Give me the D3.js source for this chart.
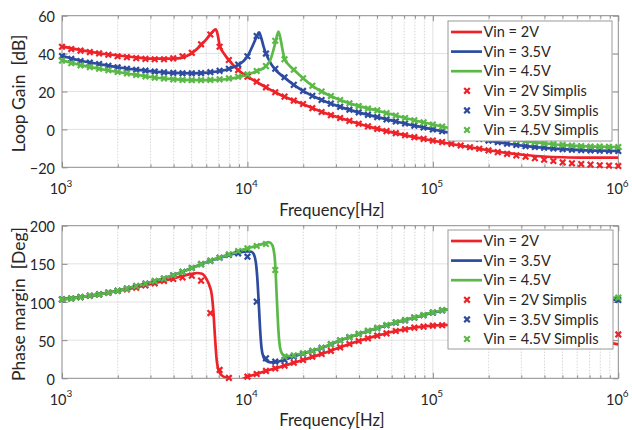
<!DOCTYPE html>
<html><head><meta charset="utf-8">
<script src="https://cdn.jsdelivr.net/npm/d3@7"></script>
<style>
body{margin:0;background:#fff}
svg{display:block}
text{font-family:Lato,"Open Sans",sans-serif;fill:#262626}
</style>
</head><body>
<svg id="c" width="632" height="430"></svg>
<script>
// ---------- DATA ----------
const seriesNames = ["Vin = 2V", "Vin = 3.5V", "Vin = 4.5V"];
const simNames = ["Vin = 2V Simplis", "Vin = 3.5V Simplis", "Vin = 4.5V Simplis"];
const decadeTicks = [1e3, 1e4, 1e5, 1e6];
const decadeExponents = ["3", "4", "5", "6"];
const gainTicks = [-20, 0, 20, 40, 60];
const phaseTicks = [0, 50, 100, 150, 200];

// Simplis sample frequencies (Hz)
const simFreq = [1000,1122,1259,1413,1585,1778,1995,2239,2512,2818,
  3162,3548,3981,4467,5012,5623,6310,7079,7943,8913,
  10000,11220,12589,14125,15849,17783,19953,22387,25119,28184,
  31623,35481,39811,44668,50119,56234,63096,70795,79433,89125,
  100000,112202,125893,141254,158489,177828,199526,223872,251189,281838,
  316228,354813,398107,446684,501187,562341,630957,707946,794328,891251,1000000];

// Loop gain, Simplis markers (dB)
const gainSim2V = [43.6,42.4,41.6,40.8,40.1,39.4,38.6,38.1,37.6,37.2,
  37.0,37.0,37.5,38.6,40.4,44.9,50.1,43.6,36.6,31.3,
  27.8,25.2,22.2,19.6,17.3,15.2,13.4,11.2,9.2,7.5,
  6.0,4.5,3.0,1.6,0.3,-0.9,-2.0,-3.1,-4.1,-5.0,
  -5.9,-6.7,-7.6,-8.5,-9.4,-10.2,-11.1,-12.0,-12.9,-13.7,
  -14.4,-15.2,-16.0,-16.7,-17.4,-17.9,-18.3,-18.6,-18.9,-19.1,-19.3];
const gainSim35V = [38.7,37.2,36.1,35.2,34.5,33.6,32.8,32.0,31.5,31.0,
  30.5,30.1,29.8,29.6,29.6,29.7,30.2,30.9,32.0,34.2,
  38.6,49.3,40.0,32.0,27.5,23.5,20.3,17.7,15.5,13.6,
  11.9,10.4,9.0,7.7,6.5,5.3,4.2,3.1,2.0,1.0,
  0.0,-1.0,-2.0,-3.0,-4.0,-5.0,-5.9,-6.7,-7.5,-8.2,
  -8.8,-9.3,-9.7,-10.1,-10.4,-10.7,-10.9,-11.1,-11.2,-11.3,-11.4];
const gainSim45V = [36.3,34.9,33.8,32.9,32.0,31.2,30.3,29.6,28.7,28.0,
  27.3,26.9,26.4,26.1,26.0,26.0,26.1,26.4,26.9,27.8,
  29.0,30.8,33.4,46.8,37.0,31.5,27.0,23.0,20.0,17.6,
  15.5,13.8,12.3,11.0,10.0,8.6,7.3,6.0,4.8,3.7,
  2.6,1.5,0.5,-0.5,-1.4,-2.3,-3.2,-4.0,-4.8,-5.5,
  -6.2,-6.8,-7.3,-7.8,-8.2,-8.5,-8.8,-9.0,-9.1,-9.2,-9.3];

// Phase margin, Simplis markers (deg)
const phaseSim2V = [103.5,104.6,106.3,108.2,110.0,112.3,114.5,116.6,118.8,121.8,
  124.5,127.5,130.1,132.3,134.5,128.0,85.5,11.0,0.5,-4.0,
  2.1,5.6,9.7,13.1,16.6,20.4,24.0,28.2,32.0,36.0,
  40.6,45.0,48.9,52.4,55.9,58.9,62.0,64.2,66.4,67.7,
  69.0,69.5,70.0,70.3,70.4,70.3,70.0,69.5,69.0,68.3,
  67.5,66.7,65.8,64.8,63.8,62.7,61.6,60.5,59.4,58.4,57.5];
const phaseSim35V = [103.5,104.6,106.3,108.2,110.0,112.3,114.8,117.5,120.8,124.0,
  127.3,130.6,135.0,139.5,144.5,149.6,154.0,158.0,161.6,163.8,
  159.4,100.4,26.2,21.8,24.0,28.5,32.2,35.8,39.8,44.5,
  49.5,53.8,58.0,62.0,65.8,69.5,73.0,76.0,79.5,82.6,
  86.0,89.0,91.0,93.0,94.6,96.1,97.4,98.5,99.5,100.3,
  101.0,101.5,101.9,102.2,102.4,102.5,102.6,102.6,102.6,102.6,102.6];
const phaseSim45V = [103.5,104.6,106.3,108.2,110.0,112.3,114.8,117.5,120.8,124.0,
  127.3,130.6,135.0,139.5,144.5,149.6,154.2,158.1,162.5,166.8,
  170.3,173.4,176.0,141.9,28.4,30.0,32.7,36.0,40.0,44.7,
  49.8,54.0,58.2,62.2,66.0,69.9,73.4,76.4,79.9,83.0,
  86.5,89.5,91.5,93.5,95.3,97.0,98.5,99.8,101.0,102.0,
  102.8,103.5,104.0,104.5,104.9,105.2,105.4,105.5,105.6,105.7,105.7];

// Model curves [frequency Hz, value]
const gainLine2V = [[1000,43.8],[1259,41.8],[1585,40.2],[1995,39.0],[2512,38.0],[3162,37.3],[3981,37.4],
  [4467,37.9],[5012,40.2],[5623,44.5],[6000,47.5],[6310,50.2],[6600,52.3],[6750,52.8],[6900,50.3],
  [7079,44.5],[7500,39.8],[7943,36.6],[8913,31.4],[10000,27.9],[11220,25.0],[12589,22.2],[14125,19.6],
  [15849,17.2],[17783,15.2],[19953,13.3],[25119,9.3],[31623,6.0],[39811,3.0],[50119,0.3],[63096,-2.0],
  [79433,-4.1],[100000,-5.9],[125893,-7.7],[158489,-9.4],[199526,-11.0],[251189,-12.4],[316228,-13.5],
  [398107,-14.3],[501187,-14.7],[630957,-14.9],[1000000,-14.9]];
const gainLine35V = [[1000,38.8],[1259,36.2],[1585,34.5],[1995,32.8],[2512,31.5],[3162,30.5],[3981,29.8],
  [5012,29.6],[6310,30.1],[7079,30.8],[7943,31.9],[8913,34.0],[9500,36.0],[10000,38.5],[10600,43.5],
  [11220,49.0],[11550,51.2],[11850,48.5],[12200,44.0],[12589,40.0],[13335,35.0],[14125,31.5],[15849,27.3],
  [17783,23.5],[19953,20.3],[25119,15.5],[31623,11.9],[39811,9.0],[50119,6.5],[63096,4.2],[79433,2.0],
  [100000,0.0],[125893,-2.0],[158489,-4.0],[199526,-5.9],[251189,-7.5],[316228,-8.8],[398107,-9.7],
  [501187,-10.4],[630957,-10.9],[794328,-11.2],[1000000,-11.4]];
const gainLine45V = [[1000,36.4],[1259,33.9],[1585,32.0],[1995,30.3],[2512,28.8],[3162,27.4],[3981,26.5],
  [5012,26.0],[6310,26.0],[7943,26.6],[10000,28.9],[11220,30.7],[12589,33.4],[13335,37.0],[14125,45.5],
  [14700,51.6],[15100,47.5],[15500,41.5],[15849,37.3],[16800,33.8],[17783,31.5],[19953,27.0],[22387,23.0],
  [25119,20.0],[31623,15.5],[39811,12.3],[50119,10.0],[63096,7.3],[79433,4.8],[100000,2.6],[125893,0.5],
  [158489,-1.4],[199526,-3.2],[251189,-4.8],[316228,-6.2],[398107,-7.3],[501187,-8.2],[630957,-8.8],
  [794328,-9.1],[1000000,-9.3]];

const phaseLine2V = [[1000,103.5],[1259,106.3],[1585,110.2],[1995,114.7],[2512,119.2],[3162,124.8],
  [3981,130.8],[4467,134.0],[5012,136.8],[5330,138.0],[5700,137.0],[6030,129.5],[6250,121],[6410,111],
  [6550,88],[6680,55],[6820,25],[7000,10],[7300,3.5],[7700,0.8],[8300,-2.5],[9000,-2.5],[9600,0],
  [10000,2.0],[11220,5.6],[12589,9.7],[14125,13.1],[15849,16.6],[17783,20.4],[19953,24.0],[25119,32.0],
  [31623,40.6],[39811,48.9],[50119,55.9],[63096,62.0],[79433,66.4],[100000,69.0],[125893,70.0],
  [158489,70.2],[199526,69.5],[251189,68.0],[316228,65.5],[398107,62.0],[501187,58.0],[630957,53.5],
  [794328,49.0],[1000000,44.5]];
const phaseLine35V = [[1000,103.5],[1259,106.3],[1585,110.0],[1995,114.8],[2512,120.8],[3162,127.3],
  [3981,135.0],[5012,144.5],[6310,154.0],[7943,161.5],[8913,164.5],[10000,166.3],[10500,165.8],
  [10800,163.0],[11100,152],[11300,132],[11500,100],[11700,65],[11900,41],[12200,28],[12589,23.5],
  [13335,21.0],[14125,21.2],[15849,24.5],[17783,28.5],[19953,32.4],[25119,39.8],[31623,49.5],
  [39811,58.0],[50119,65.8],[63096,73.0],[79433,79.5],[100000,86.0],[125893,91.0],[158489,94.6],
  [199526,97.4],[251189,99.5],[316228,101.0],[398107,101.9],[501187,102.4],[630957,102.6],[1000000,102.6]];
const phaseLine45V = [[1000,103.5],[1259,106.3],[1585,110.0],[1995,114.8],[2512,120.8],[3162,127.3],
  [3981,135.0],[5012,144.5],[6310,154.2],[7943,162.5],[10000,170.3],[11220,173.8],[12589,177.5],
  [13000,178.3],[13400,177.0],[13800,170.0],[14100,152],[14400,105],[14700,62],[15000,40],[15400,32],
  [15849,29.8],[16500,29.0],[17783,30.5],[19953,32.8],[25119,40.0],[31623,49.8],[39811,58.2],
  [50119,66.0],[63096,73.4],[79433,79.9],[100000,86.5],[125893,91.5],[158489,95.3],[199526,98.5],
  [251189,101.0],[316228,102.8],[398107,104.0],[501187,104.9],[630957,105.4],[1000000,105.7]];

// ---------- STYLE ----------
const colors = ["#ee2229", "#2d4b9f", "#5bb947"];
const axisColor = "#8c8c8c";

const svg = d3.select("#c");
const X0 = 62, X1 = 618.3;
const x = d3.scaleLog().domain([1e3, 1e6]).range([X0, X1]);
const minorTicks = [];
[1e3, 1e4, 1e5].forEach(d => { for (let m = 2; m <= 9; m++) minorTicks.push(d * m); });

const panels = [
  {top: 15.7, bottom: 167.3, domain: [-20, 60], ticks: gainTicks, ylabel: "Loop Gain  [dB]",
   lines: [gainLine2V, gainLine35V, gainLine45V], sims: [gainSim2V, gainSim35V, gainSim45V],
   legend: {x: 448, y: 21, w: 164, h: 120}, tickY: 194, labelY: 216},
  {top: 225.7, bottom: 378.3, domain: [0, 200], ticks: phaseTicks, ylabel: "Phase margin  [Deg]",
   lines: [phaseLine2V, phaseLine35V, phaseLine45V], sims: [phaseSim2V, phaseSim35V, phaseSim45V],
   legend: {x: 448, y: 230, w: 165, h: 119}, tickY: 404.5, labelY: 426}
];

function xMark(g, cx, cy, color) {
  const s = 2.8;
  g.append("path")
    .attr("d", `M${cx - s},${cy - s}L${cx + s},${cy + s}M${cx - s},${cy + s}L${cx + s},${cy - s}`)
    .attr("stroke", color).attr("stroke-width", 2.2).attr("fill", "none");
}

panels.forEach((p, pi) => {
  const y = d3.scaleLinear().domain(p.domain).range([p.bottom, p.top]);
  const g = svg.append("g");
  const clipId = "clip" + pi;
  svg.append("clipPath").attr("id", clipId).append("rect")
    .attr("x", X0).attr("y", p.top).attr("width", X1 - X0).attr("height", p.bottom - p.top);

  g.append("rect").attr("x", X0).attr("y", p.top).attr("width", X1 - X0).attr("height", p.bottom - p.top)
    .attr("fill", "#fff");

  // grid
  g.selectAll(".hg").data(p.ticks.slice(1, -1)).enter().append("line")
    .attr("x1", X0).attr("x2", X1).attr("y1", d => y(d)).attr("y2", d => y(d))
    .attr("stroke", "#e2e2e2").attr("stroke-width", 1);
  g.selectAll(".vm").data(minorTicks).enter().append("line")
    .attr("x1", d => x(d)).attr("x2", d => x(d)).attr("y1", p.top).attr("y2", p.bottom)
    .attr("stroke", "#cccccc").attr("stroke-width", 0.8).attr("stroke-dasharray", "1.5,1.5");
  g.selectAll(".vM").data(decadeTicks.slice(1, -1)).enter().append("line")
    .attr("x1", d => x(d)).attr("x2", d => x(d)).attr("y1", p.top).attr("y2", p.bottom)
    .attr("stroke", "#e2e2e2").attr("stroke-width", 1);

  // axes (ticks inward)
  const mk = (axis, tr, size, vals) => {
    const a = g.append("g").attr("transform", tr)
      .call(axis.tickValues(vals).tickSize(-size).tickFormat(""));
    a.select(".domain").remove();
    a.selectAll("line").attr("stroke", axisColor);
    return a;
  };
  mk(d3.axisBottom(x), `translate(0,${p.bottom})`, 5.5, decadeTicks);
  mk(d3.axisBottom(x), `translate(0,${p.bottom})`, 3, minorTicks);
  mk(d3.axisTop(x), `translate(0,${p.top})`, 5.5, decadeTicks);
  mk(d3.axisTop(x), `translate(0,${p.top})`, 3, minorTicks);
  mk(d3.axisRight(y), `translate(${X1},0)`, 5.5, p.ticks);
  const ya = g.append("g").attr("transform", `translate(${X0},0)`)
    .call(d3.axisLeft(y).tickValues(p.ticks).tickSize(-5.5).tickPadding(7));
  ya.select(".domain").remove();
  ya.selectAll("line").attr("stroke", axisColor);
  ya.selectAll("text").attr("font-size", 14.5).attr("font-family", "Lato").attr("fill", "#262626")
    .attr("dy", "0.42em");

  g.append("rect").attr("x", X0).attr("y", p.top).attr("width", X1 - X0).attr("height", p.bottom - p.top)
    .attr("fill", "none").attr("stroke", axisColor).attr("stroke-width", 1);

  // x tick labels 10^n
  decadeTicks.forEach((d, i) => {
    const t = g.append("text").attr("x", x(d) - 1).attr("y", p.tickY).attr("text-anchor", "middle")
      .attr("font-size", 14.5);
    t.append("tspan").text("10");
    t.append("tspan").attr("font-size", 10).attr("dy", -7.5).text(decadeExponents[i]);
  });

  g.append("text").attr("x", 332).attr("y", p.labelY).attr("text-anchor", "middle")
    .attr("font-size", 16.5).text("Frequency[Hz]");
  g.append("text").attr("transform", `translate(25,${(p.top + p.bottom) / 2 + 2}) rotate(-90)`)
    .attr("text-anchor", "middle").attr("font-size", 17.5).style("white-space", "pre").text(p.ylabel);

  // curves
  const lineGen = d3.line().x(d => x(d[0])).y(d => y(d[1])).curve(d3.curveMonotoneX);
  const cg = g.append("g").attr("clip-path", `url(#${clipId})`);
  p.lines.forEach((ln, i) => {
    cg.append("path").datum(ln).attr("d", lineGen).attr("fill", "none")
      .attr("stroke", colors[i]).attr("stroke-width", 2.7).attr("stroke-linejoin", "round");
  });
  const mg = g.append("g");
  p.sims.forEach((vals, i) => {
    vals.forEach((v, k) => {
      if (v < p.domain[0] || v > p.domain[1]) return;
      xMark(mg, x(simFreq[k]), y(v), colors[i]);
    });
  });

  // legend
  const L = p.legend;
  const lg = g.append("g");
  lg.append("rect").attr("x", L.x).attr("y", L.y).attr("width", L.w).attr("height", L.h)
    .attr("fill", "#fff").attr("stroke", "#9a9a9a").attr("stroke-width", 1);
  const rowH = 19.6, r0 = L.y + 11;
  seriesNames.forEach((n, i) => {
    const ry = r0 + i * rowH;
    lg.append("line").attr("x1", L.x + 3).attr("x2", L.x + 34).attr("y1", ry).attr("y2", ry)
      .attr("stroke", colors[i]).attr("stroke-width", 2.7);
    lg.append("text").attr("x", L.x + 35.5).attr("y", ry).attr("dy", "0.36em").attr("font-size", 14.5).text(n);
  });
  simNames.forEach((n, i) => {
    const ry = r0 + (i + 3) * rowH;
    xMark(lg, L.x + 19, ry, colors[i]);
    lg.append("text").attr("x", L.x + 35.5).attr("y", ry).attr("dy", "0.36em").attr("font-size", 14.5).text(n);
  });
});
</script>
</body></html>
